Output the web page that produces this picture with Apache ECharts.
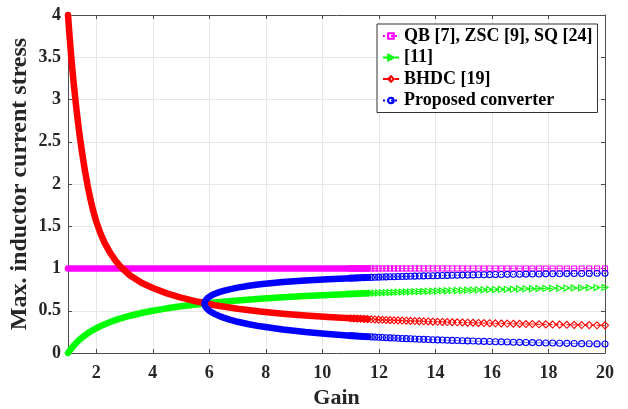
<!DOCTYPE html>
<html>
<head>
<meta charset="utf-8">
<script src="https://cdn.jsdelivr.net/npm/echarts@6/dist/echarts.min.js"></script>
<style>
  html, body { margin: 0; padding: 0; background: #fff; }
  #chart { width: 628px; height: 409px; }
</style>
</head>
<body>
<div id="chart"></div>
<script>
// Gain samples for the solid low-gain part of each curve
const gainBand = [1.00, 1.05, 1.10, 1.15, 1.20, 1.30, 1.40, 1.50, 1.60, 1.70, 1.80, 1.90, 2.00, 2.15, 2.30, 2.50,
  2.70, 2.90, 3.20, 3.60, 4.00, 4.50, 5.00, 5.60, 6.20, 7.00, 7.80, 8.60, 9.40, 10.2, 11.0, 11.6];
const qbBand = [1, 1, 1, 1, 1, 1, 1, 1, 1, 1, 1, 1, 1, 1, 1, 1, 1, 1, 1, 1, 1, 1, 1, 1, 1, 1, 1, 1, 1, 1, 1, 1];
const ref11Band = [0, 0.0241, 0.0465, 0.0675, 0.0871, 0.1229, 0.1548, 0.1835, 0.2094, 0.2330, 0.2546, 0.2745,
  0.2929, 0.3180, 0.3406, 0.3675, 0.3914, 0.4128, 0.4410, 0.4730, 0.5000, 0.5286, 0.5528, 0.5774, 0.5984,
  0.6220, 0.6419, 0.6590, 0.6738, 0.6869, 0.6985, 0.7064];
const bhdcBand = [4.000, 3.774, 3.566, 3.374, 3.197, 2.880, 2.606, 2.367, 2.157, 1.972, 1.810, 1.672, 1.556,
  1.414, 1.301, 1.181, 1.085, 1.007, 0.917, 0.831, 0.769, 0.706, 0.656, 0.606, 0.565, 0.523, 0.490, 0.464,
  0.443, 0.426, 0.411, 0.401];

// Proposed converter: lower branch back to the turning point, then the upper branch
const proposedBandGain = [11.6, 11.0, 10.2, 9.4, 8.6, 7.8, 7.4, 7.0, 6.75, 6.5, 6.35, 6.2, 6.1, 6.0, 5.95, 5.9, 5.85,
  5.8284, 5.85, 5.9, 5.95, 6.0, 6.1, 6.2, 6.35, 6.5, 6.75, 7.0, 7.4, 7.8, 8.6, 9.4, 10.2, 11.0, 11.6];
const proposedBand = [0.1930, 0.2053, 0.2245, 0.2478, 0.2771, 0.3155, 0.3398, 0.3694, 0.3917, 0.4183, 0.4374,
  0.4599, 0.4780, 0.5000, 0.5136, 0.5305, 0.5556, 0.5858, 0.6154, 0.6390, 0.6545, 0.6667, 0.6860, 0.7013,
  0.7201, 0.7355, 0.7565, 0.7735, 0.7953, 0.8127, 0.8391, 0.8586, 0.8736, 0.8856, 0.8932];

// Gain samples where the individual markers are visible
const gainMarks = [10.999, 11.116, 11.235, 11.356, 11.479, 11.603, 11.730, 11.859, 11.990, 12.123,
  12.258, 12.396, 12.536, 12.678, 12.823, 12.970, 13.120, 13.272, 13.427, 13.585,
  13.746, 13.909, 14.076, 14.245, 14.418, 14.593, 14.772, 14.955, 15.140, 15.330,
  15.522, 15.718, 15.918, 16.122, 16.330, 16.542, 16.758, 16.978, 17.203, 17.432,
  17.666, 17.905, 18.148, 18.396, 18.650, 18.909, 19.173, 19.442, 19.718, 20.000];
const qbMarks = [1, 1, 1, 1, 1, 1, 1, 1, 1, 1, 1, 1, 1, 1, 1, 1, 1, 1, 1, 1, 1, 1, 1, 1, 1,
  1, 1, 1, 1, 1, 1, 1, 1, 1, 1, 1, 1, 1, 1, 1, 1, 1, 1, 1, 1, 1, 1, 1, 1, 1];
const ref11Marks = [0.6985, 0.7001, 0.7017, 0.7033, 0.7048, 0.7064, 0.7080, 0.7096, 0.7112, 0.7128,
  0.7144, 0.7160, 0.7176, 0.7192, 0.7207, 0.7223, 0.7239, 0.7255, 0.7271, 0.7287,
  0.7303, 0.7319, 0.7335, 0.7350, 0.7366, 0.7382, 0.7398, 0.7414, 0.7430, 0.7446,
  0.7462, 0.7478, 0.7494, 0.7509, 0.7525, 0.7541, 0.7557, 0.7573, 0.7589, 0.7605,
  0.7621, 0.7637, 0.7653, 0.7668, 0.7684, 0.7700, 0.7716, 0.7732, 0.7748, 0.7764];
const bhdcMarks = [0.411, 0.409, 0.407, 0.405, 0.403, 0.401, 0.399, 0.397, 0.395, 0.393,
  0.391, 0.389, 0.387, 0.386, 0.384, 0.382, 0.380, 0.378, 0.377, 0.375,
  0.373, 0.371, 0.369, 0.368, 0.366, 0.364, 0.363, 0.361, 0.359, 0.358,
  0.356, 0.354, 0.353, 0.351, 0.349, 0.348, 0.346, 0.345, 0.343, 0.342,
  0.340, 0.339, 0.337, 0.336, 0.334, 0.333, 0.331, 0.330, 0.328, 0.327];
const proposedUpperMarks = [0.8856, 0.8872, 0.8887, 0.8902, 0.8917, 0.8932, 0.8947, 0.8961, 0.8976, 0.8990,
  0.9004, 0.9018, 0.9031, 0.9045, 0.9058, 0.9071, 0.9084, 0.9097, 0.9110, 0.9122,
  0.9135, 0.9147, 0.9159, 0.9171, 0.9183, 0.9195, 0.9206, 0.9218, 0.9229, 0.9240,
  0.9252, 0.9262, 0.9273, 0.9284, 0.9295, 0.9305, 0.9316, 0.9326, 0.9336, 0.9346,
  0.9356, 0.9366, 0.9376, 0.9385, 0.9395, 0.9404, 0.9413, 0.9423, 0.9432, 0.9441];
const proposedLowerMarks = [0.2053, 0.2028, 0.2003, 0.1978, 0.1954, 0.1930, 0.1906, 0.1882, 0.1858, 0.1835,
  0.1812, 0.1789, 0.1767, 0.1744, 0.1722, 0.1700, 0.1678, 0.1657, 0.1635, 0.1614,
  0.1593, 0.1572, 0.1551, 0.1531, 0.1511, 0.1490, 0.1471, 0.1451, 0.1431, 0.1412,
  0.1393, 0.1374, 0.1355, 0.1336, 0.1318, 0.1299, 0.1281, 0.1263, 0.1245, 0.1228,
  0.1210, 0.1192, 0.1175, 0.1158, 0.1141, 0.1125, 0.1108, 0.1092, 0.1075, 0.1059];

const xTicks = [2, 4, 6, 8, 10, 12, 14, 16, 18, 20];
const seriesNames = ['QB [7], ZSC [9], SQ [24]', '[11]', 'BHDC [19]', 'Proposed converter'];

const MAGENTA = '#ff00ff', GREEN = '#00ff00', RED = '#ff0000', BLUE = '#0000ff';
const TEXT = '#262626', AXIS = '#4d4d4d', GRIDC = '#e6e6e6';
const FONT = '"Liberation Serif", "Times New Roman", serif';

const pairs = (xs, ys) => xs.map((x, i) => [x, ys[i]]);

function band(name, xs, ys, color) {
  return {
    name: name, type: 'line', data: pairs(xs, ys), showSymbol: false, silent: true, clip: false,
    lineStyle: { color: color, width: 6.5, cap: 'round', join: 'round' },
    itemStyle: { color: color }
  };
}
function marks(name, data, color, symbol, size, dash, rotate) {
  return {
    name: name, type: 'line', data: data, symbol: symbol, symbolSize: size, symbolRotate: rotate || 0,
    showSymbol: true, clip: false, connectNulls: false,
    lineStyle: { color: color, width: 1, type: dash },
    itemStyle: { color: 'rgba(255,255,255,0)', borderColor: color, borderWidth: 1.1 }
  };
}

const proposedMarkData = pairs(gainMarks, proposedLowerMarks).concat([[null, null]])
  .concat(pairs(gainMarks, proposedUpperMarks).reverse());

const chart = echarts.init(document.getElementById('chart'), null, { renderer: 'canvas' });
chart.setOption({
  animation: false,
  backgroundColor: '#ffffff',
  grid: { left: 68, right: 23, top: 15, bottom: 56, containLabel: false, outerBoundsMode: 'none' },
  legend: {
    data: seriesNames,
    orient: 'vertical', left: 377, top: 24,
    padding: [3, 5, 3, 5], itemGap: 3.5, itemWidth: 16, itemHeight: 7,
    backgroundColor: '#ffffff', borderColor: '#333333', borderWidth: 1,
    textStyle: { fontFamily: FONT, fontWeight: 'bold', fontSize: 18, color: '#000', lineHeight: 18 }
  },
  xAxis: [{
    type: 'value', min: 1, max: 20, name: 'Gain', nameLocation: 'middle', nameGap: 33,
    nameTextStyle: { fontFamily: FONT, fontWeight: 'bold', fontSize: 22, color: TEXT },
    axisLine: { show: true, onZero: false, lineStyle: { color: AXIS, width: 1 } },
    axisTick: { show: true, inside: true, length: 4, customValues: xTicks, lineStyle: { color: AXIS } },
    axisLabel: { customValues: xTicks, margin: 11, fontFamily: FONT, fontWeight: 'bold', fontSize: 18, color: TEXT },
    splitLine: { show: true, lineStyle: { color: GRIDC, width: 1 } }
  }, {
    type: 'value', min: 1, max: 20, position: 'top',
    axisLine: { show: true, onZero: false, lineStyle: { color: AXIS, width: 1 } },
    axisTick: { show: true, inside: true, length: 4, customValues: xTicks, lineStyle: { color: AXIS } },
    axisLabel: { show: false, customValues: xTicks },
    splitLine: { show: false }
  }],
  yAxis: [{
    type: 'value', min: 0, max: 4, interval: 0.5,
    name: 'Max. inductor current stress', nameLocation: 'middle', nameGap: 36, nameMoveOverlap: false,
    nameTextStyle: { fontFamily: FONT, fontWeight: 'bold', fontSize: 24, color: TEXT },
    axisLine: { show: true, onZero: false, lineStyle: { color: AXIS, width: 1 } },
    axisTick: { show: true, inside: true, length: 4, lineStyle: { color: AXIS } },
    axisLabel: { margin: 7, fontFamily: FONT, fontWeight: 'bold', fontSize: 18, color: TEXT },
    splitLine: { show: true, lineStyle: { color: GRIDC, width: 1 } }
  }, {
    type: 'value', min: 0, max: 4, interval: 0.5, position: 'right',
    axisLine: { show: true, onZero: false, lineStyle: { color: AXIS, width: 1 } },
    axisTick: { show: true, inside: true, length: 4, lineStyle: { color: AXIS } },
    axisLabel: { show: false },
    splitLine: { show: false }
  }],
  series: [
    band('qb-band', gainBand, qbBand, MAGENTA),
    marks(seriesNames[0], pairs(gainMarks, qbMarks), MAGENTA, 'rect', 5, 'dotted'),
    band('ref11-band', gainBand, ref11Band, GREEN),
    marks(seriesNames[1], pairs(gainMarks, ref11Marks), GREEN, 'triangle', 6, 'dashed', -90),
    band('bhdc-band', gainBand, bhdcBand, RED),
    marks(seriesNames[2], pairs(gainMarks, bhdcMarks), RED, 'diamond', 7, 'dashed'),
    band('proposed-band', proposedBandGain, proposedBand, BLUE),
    marks(seriesNames[3], proposedMarkData, BLUE, 'circle', 6, 'dotted')
  ]
});
</script>
</body>
</html>
